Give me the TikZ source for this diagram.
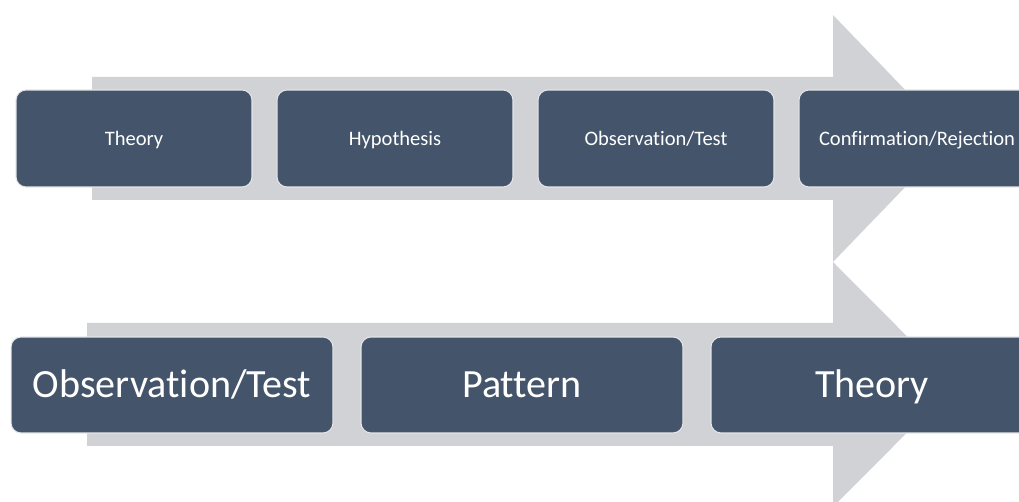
\documentclass[tikz,border=0pt]{standalone}
\usepackage{fontspec}
\setmainfont{Carlito}[Ligatures=NoCommon]
\usetikzlibrary{positioning}
\definecolor{boxblue}{HTML}{44546A}
\definecolor{bandgray}{HTML}{D0D2D6}

\begin{document}
\begin{tikzpicture}[
  x=0.02cm, y=-0.02cm,
  node distance=0.48cm,
  stage/.style={draw=white!85!boxblue, line width=0.6pt, fill=boxblue,
                rounded corners=0.2cm, text=white, inner sep=0pt,
                minimum width=4.72cm, minimum height=1.94cm,
                text height=7.5pt, text depth=0pt,
                font=\fontsize{11.7}{14}\selectfont},
  bigstage/.style={stage, minimum width=6.44cm, minimum height=1.92cm,
                   text height=14.7pt,
                   font=\fontsize{22.8}{27}\selectfont},
  band/.style={fill=bandgray},
]
  \useasboundingbox (0,0) rectangle (1019,502);
  \clip (0,0) rectangle (1019,502);

  % Top arrow
  \fill[band] (92,77) -- (833,77) -- (833,15) -- (952,138.5)
    -- (833,262) -- (833,200) -- (92,200) -- cycle;
  % Bottom arrow
  \fill[band] (87,323) -- (833,323) -- (833,262) -- (955,384.5)
    -- (833,507) -- (833,446) -- (87,446) -- cycle;

  % Top row
  \node[stage] (theory) at (134,138.5) {Theory};
  \node[stage, right=of theory] (hyp) {Hypothesis};
  \node[stage, right=of hyp] (obs) {Observation/Test};
  \node[stage, right=of obs] (conf) {Confirmation/Rejection};

  % Bottom row
  \node[bigstage] (obsb) at (172,385) {Observation/Test};
  \node[bigstage, right=0.54cm of obsb] (pat) {Pattern};
  \node[bigstage, right=0.54cm of pat] (theoryb) {Theory};
\end{tikzpicture}
\end{document}
